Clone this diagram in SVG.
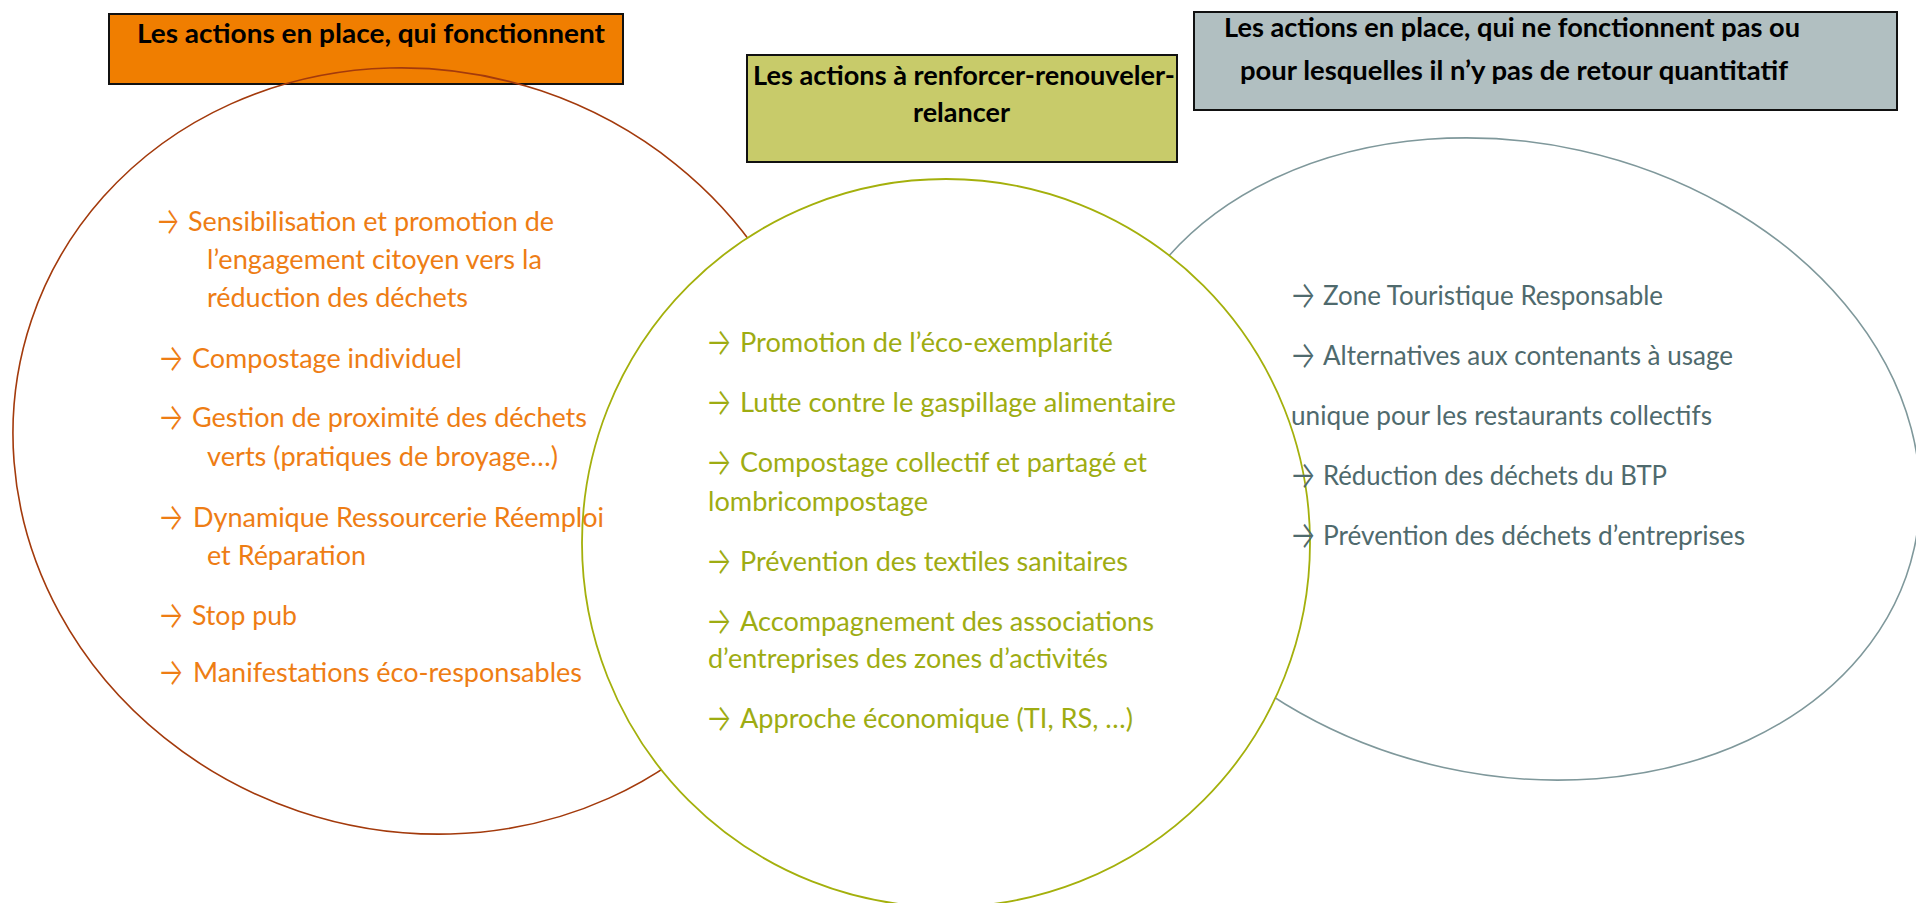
<svg xmlns="http://www.w3.org/2000/svg" width="1916" height="903" viewBox="0 0 1916 903">
<style>
.bg{fill:#ffffff}
.box{stroke:#111111;stroke-width:2}
.ttl{font-family:Lato,'Open Sans',sans-serif;font-weight:700;font-size:26px;fill:#000000}
.b{font-family:Lato,'Open Sans',sans-serif;font-size:27px}
.r{font-family:Lato,'Open Sans',sans-serif;font-size:26px}
.ar{font-family:Inter,Roboto,'DejaVu Sans',sans-serif;font-size:38px;font-weight:300}
.or{fill:#EE7D14}
.ol{fill:#9EAC12}
.sl{fill:#4F6A6D}
</style>
<rect class="bg" x="0" y="0" width="1916" height="903"/>
<g id="box-fonctionnent">
<rect class="box" x="109" y="14" width="514" height="70" fill="#F07E00"/>
<text class="ttl" x="137" y="43" textLength="468" lengthAdjust="spacingAndGlyphs">Les actions en place, qui fonctionnent</text>
</g>
<g id="box-renforcer">
<rect class="box" x="747" y="55" width="430" height="107" fill="#C8CB6A"/>
<text class="ttl" x="753" y="85" textLength="422" lengthAdjust="spacingAndGlyphs">Les actions à renforcer-renouveler-</text>
<text class="ttl" x="913" y="122" textLength="97" lengthAdjust="spacingAndGlyphs">relancer</text>
</g>
<g id="box-ne-fonctionnent-pas">
<rect class="box" x="1194" y="12" width="703" height="98" fill="#B1BFC1"/>
<text class="ttl" x="1224" y="37" textLength="576" lengthAdjust="spacingAndGlyphs">Les actions en place, qui ne fonctionnent pas ou</text>
<text class="ttl" x="1240" y="80" textLength="548" lengthAdjust="spacingAndGlyphs">pour lesquelles il n’y pas de retour quantitatif</text>
</g>
<g id="ellipse-left">
<ellipse cx="0" cy="0" rx="410" ry="380" transform="translate(420 451) rotate(18.6)" fill="none" stroke="#A33A0C" stroke-width="1.6"/>
</g>
<g id="ellipse-right">
<ellipse cx="0" cy="0" rx="412" ry="316" transform="translate(1512 459) rotate(12.5)" fill="none" stroke="#7F989B" stroke-width="1.6"/>
</g>
<g id="circle-middle">
<circle cx="946" cy="543" r="364" fill="#ffffff" stroke="#A4B00C" stroke-width="1.8"/>
</g>
<g id="connectors"></g>
<g id="list-fonctionnent">
<text class="ar or" x="156" y="234" textLength="24" lengthAdjust="spacingAndGlyphs">→</text>
<text class="b or" x="188" y="231" textLength="366" lengthAdjust="spacingAndGlyphs">Sensibilisation et promotion de</text>
<text class="b or" x="207" y="269" textLength="335" lengthAdjust="spacingAndGlyphs">l’engagement citoyen vers la</text>
<text class="b or" x="207" y="307" textLength="261" lengthAdjust="spacingAndGlyphs">réduction des déchets</text>
<text class="ar or" x="158" y="371" textLength="26" lengthAdjust="spacingAndGlyphs">→</text>
<text class="b or" x="192" y="368" textLength="270" lengthAdjust="spacingAndGlyphs">Compostage individuel</text>
<text class="ar or" x="158" y="430" textLength="26" lengthAdjust="spacingAndGlyphs">→</text>
<text class="b or" x="192" y="427" textLength="395" lengthAdjust="spacingAndGlyphs">Gestion de proximité des déchets</text>
<text class="b or" x="207" y="466" textLength="351" lengthAdjust="spacingAndGlyphs">verts (pratiques de broyage…)</text>
<text class="ar or" x="158" y="530" textLength="26" lengthAdjust="spacingAndGlyphs">→</text>
<text class="b or" x="193" y="527" textLength="411" lengthAdjust="spacingAndGlyphs">Dynamique Ressourcerie Réemploi</text>
<text class="b or" x="207" y="565" textLength="159" lengthAdjust="spacingAndGlyphs">et Réparation</text>
<text class="ar or" x="158" y="628" textLength="26" lengthAdjust="spacingAndGlyphs">→</text>
<text class="b or" x="192" y="625" textLength="105" lengthAdjust="spacingAndGlyphs">Stop pub</text>
<text class="ar or" x="158" y="685" textLength="26" lengthAdjust="spacingAndGlyphs">→</text>
<text class="b or" x="193" y="682" textLength="389" lengthAdjust="spacingAndGlyphs">Manifestations éco-responsables</text>
</g>
<g id="list-renforcer">
<text class="ar ol" x="706" y="355" textLength="26" lengthAdjust="spacingAndGlyphs">→</text>
<text class="b ol" x="740" y="352" textLength="373" lengthAdjust="spacingAndGlyphs">Promotion de l’éco-exemplarité</text>
<text class="ar ol" x="706" y="415" textLength="26" lengthAdjust="spacingAndGlyphs">→</text>
<text class="b ol" x="740" y="412" textLength="436" lengthAdjust="spacingAndGlyphs">Lutte contre le gaspillage alimentaire</text>
<text class="ar ol" x="706" y="475" textLength="26" lengthAdjust="spacingAndGlyphs">→</text>
<text class="b ol" x="740" y="472" textLength="407" lengthAdjust="spacingAndGlyphs">Compostage collectif et partagé et</text>
<text class="b ol" x="708" y="511" textLength="220" lengthAdjust="spacingAndGlyphs">lombricompostage</text>
<text class="ar ol" x="706" y="574" textLength="26" lengthAdjust="spacingAndGlyphs">→</text>
<text class="b ol" x="740" y="571" textLength="388" lengthAdjust="spacingAndGlyphs">Prévention des textiles sanitaires</text>
<text class="ar ol" x="706" y="634" textLength="26" lengthAdjust="spacingAndGlyphs">→</text>
<text class="b ol" x="740" y="631" textLength="414" lengthAdjust="spacingAndGlyphs">Accompagnement des associations</text>
<text class="b ol" x="708" y="668" textLength="400" lengthAdjust="spacingAndGlyphs">d’entreprises des zones d’activités</text>
<text class="ar ol" x="706" y="731" textLength="26" lengthAdjust="spacingAndGlyphs">→</text>
<text class="b ol" x="740" y="728" textLength="393" lengthAdjust="spacingAndGlyphs">Approche économique (TI, RS, …)</text>
</g>
<g id="list-ne-fonctionnent-pas">
<text class="ar sl" x="1290" y="308" textLength="26" lengthAdjust="spacingAndGlyphs">→</text>
<text class="r sl" x="1323" y="305" textLength="340" lengthAdjust="spacingAndGlyphs">Zone Touristique Responsable</text>
<text class="ar sl" x="1290" y="368" textLength="26" lengthAdjust="spacingAndGlyphs">→</text>
<text class="r sl" x="1323" y="365" textLength="410" lengthAdjust="spacingAndGlyphs">Alternatives aux contenants à usage</text>
<text class="r sl" x="1291" y="425" textLength="421" lengthAdjust="spacingAndGlyphs">unique pour les restaurants collectifs</text>
<text class="ar sl" x="1290" y="488" textLength="26" lengthAdjust="spacingAndGlyphs">→</text>
<text class="r sl" x="1323" y="485" textLength="344" lengthAdjust="spacingAndGlyphs">Réduction des déchets du BTP</text>
<text class="ar sl" x="1290" y="548" textLength="26" lengthAdjust="spacingAndGlyphs">→</text>
<text class="r sl" x="1323" y="545" textLength="422" lengthAdjust="spacingAndGlyphs">Prévention des déchets d’entreprises</text>
</g>
</svg>
